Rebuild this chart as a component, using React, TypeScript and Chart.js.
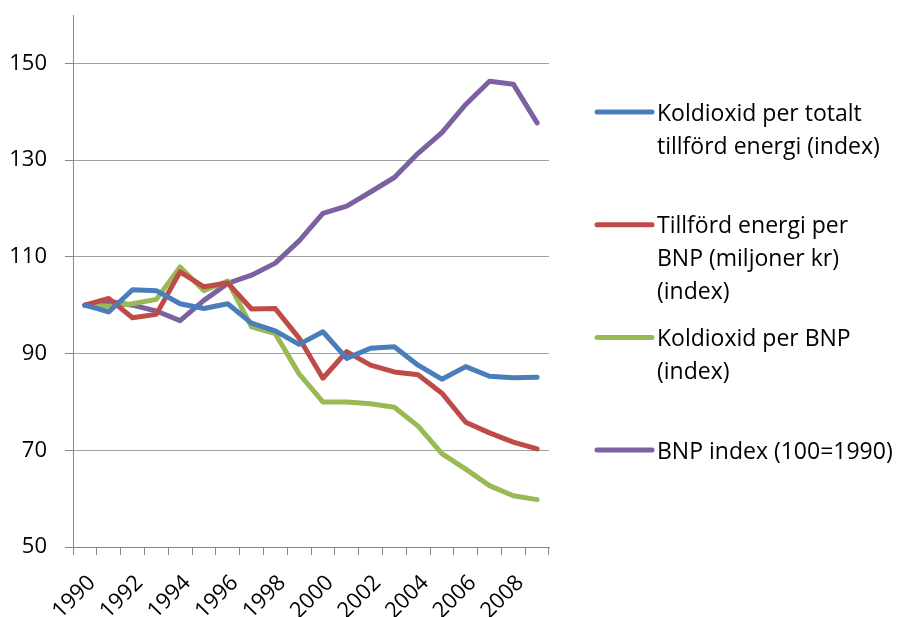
import React, { useEffect, useRef } from "react";
import { Chart, registerables } from "chart.js";

Chart.register(...registerables);

const years = [
  "1990", "1991", "1992", "1993", "1994", "1995", "1996", "1997", "1998", "1999",
  "2000", "2001", "2002", "2003", "2004", "2005", "2006", "2007", "2008", "2009",
];

const co2PerEnergy = [100, 98.6, 103.2, 103.0, 100.3, 99.3, 100.3, 96.3, 94.7, 91.9, 94.5, 89.0, 91.1, 91.4, 87.6, 84.7, 87.3, 85.3, 85.0, 85.1];
const energyPerGdp = [100, 101.4, 97.4, 98.1, 106.9, 103.8, 104.6, 99.2, 99.3, 93.2, 84.9, 90.4, 87.6, 86.2, 85.6, 81.8, 75.8, 73.6, 71.7, 70.3];
const co2PerGdp = [100, 99.8, 100.3, 101.2, 107.9, 103.0, 105.0, 95.5, 94.1, 85.8, 80.0, 80.0, 79.6, 78.9, 75.0, 69.3, 66.1, 62.7, 60.6, 59.8];
const gdpIndex = [100, 100.8, 100.0, 98.8, 96.8, 101.0, 104.5, 106.2, 108.7, 113.3, 119.0, 120.5, 123.4, 126.4, 131.4, 135.7, 141.5, 146.3, 145.7, 137.7];

const yTicks = [50, 70, 90, 110, 130, 150];

const seriesLabels: string[][] = [
  ["Koldioxid per totalt", "tillförd energi (index)"],
  ["Tillförd energi per", "BNP (miljoner kr)", "(index)"],
  ["Koldioxid per BNP", "(index)"],
  ["BNP index (100=1990)"],
];
const seriesColors = ["#4A7EBB", "#BE4B48", "#98B954", "#7D60A0"];

const FONT = "'Open Sans', 'Noto Sans', sans-serif";

const legendPlugin = {
  id: "sideLegend",
  afterDraw(chart: any) {
    const ctx = chart.ctx;
    const area = chart.chartArea;
    const x0 = area.right + 48;
    const x1 = x0 + 55;
    const tx = x1 + 5;
    const firstY = area.top + 97;
    const gap = 112.7;
    const lineH = 33;
    ctx.save();
    ctx.font = `23px ${FONT}`;
    ctx.fillStyle = "#000";
    ctx.textAlign = "left";
    ctx.textBaseline = "middle";
    chart.data.datasets.forEach((ds: any, i: number) => {
      const y = firstY + i * gap;
      ctx.strokeStyle = ds.borderColor;
      ctx.lineWidth = 5;
      ctx.lineCap = "round";
      ctx.beginPath();
      ctx.moveTo(x0, y);
      ctx.lineTo(x1, y);
      ctx.stroke();
      const lines: string[] = ds.legendLines;
      lines.forEach((t, k) => ctx.fillText(t, tx, y + 2 + k * lineH));
    });
    ctx.restore();
  },
};

export default function App() {
  const ref = useRef<HTMLCanvasElement | null>(null);

  useEffect(() => {
    if (!ref.current) return;
    const allSeries = [co2PerEnergy, energyPerGdp, co2PerGdp, gdpIndex];
    const chart = new Chart(ref.current, {
      type: "line",
      data: {
        labels: years,
        datasets: allSeries.map((d, i) => ({
          label: seriesLabels[i].join(" "),
          legendLines: seriesLabels[i],
          data: d,
          borderColor: seriesColors[i],
          backgroundColor: seriesColors[i],
          borderWidth: 5,
          pointRadius: 0,
          tension: 0,
          borderJoinStyle: "round",
          borderCapStyle: "round",
          fill: false,
        })) as any,
      },
      options: {
        animation: false,
        responsive: true,
        maintainAspectRatio: false,
        layout: { padding: { left: 0, right: 348, top: 15, bottom: 0 } },
        plugins: {
          legend: { display: false },
          tooltip: { enabled: false },
          title: { display: false },
        },
        scales: {
          x: {
            type: "category",
            offset: true,
            grid: {
              offset: true,
              drawOnChartArea: false,
              drawTicks: true,
              tickLength: 8,
              color: "#868686",
              lineWidth: 1,
            },
            border: { display: true, color: "#868686", width: 1 },
            ticks: {
              autoSkip: false,
              maxRotation: 45,
              minRotation: 45,
              padding: 15,
              labelOffset: 7,
              color: "#000",
              font: { family: FONT, size: 22 },
              callback: (_v: any, i: number) => (i % 2 === 0 ? years[i] : ""),
            },
            afterFit: (s: any) => {
              s.height = 70;
              s.paddingTop = 0;
              s.paddingBottom = 0;
              s.paddingLeft = 0;
              s.paddingRight = 0;
            },
          },
          y: {
            type: "linear",
            min: 50,
            max: 160,
            afterBuildTicks: (s: any) => {
              s.ticks = yTicks.map((v) => ({ value: v }));
            },
            grid: {
              color: "#A0A0A0",
              lineWidth: 1,
              drawTicks: true,
              tickLength: 8,
              tickColor: "#868686",
            },
            border: { display: true, color: "#868686", width: 1 },
            ticks: {
              padding: 18,
              color: "#000",
              font: { family: FONT, size: 22 },
            },
            afterFit: (s: any) => {
              s.width = 73;
              s.paddingTop = 0;
              s.paddingBottom = 0;
              s.paddingLeft = 0;
              s.paddingRight = 0;
            },
          },
        },
      },
      plugins: [legendPlugin],
    } as any);
    return () => chart.destroy();
  }, []);

  return (
    <div style={{ position: "fixed", left: 0, top: 0, width: 897, height: 617, background: "#fff" }}>
      <canvas ref={ref} />
    </div>
  );
}
